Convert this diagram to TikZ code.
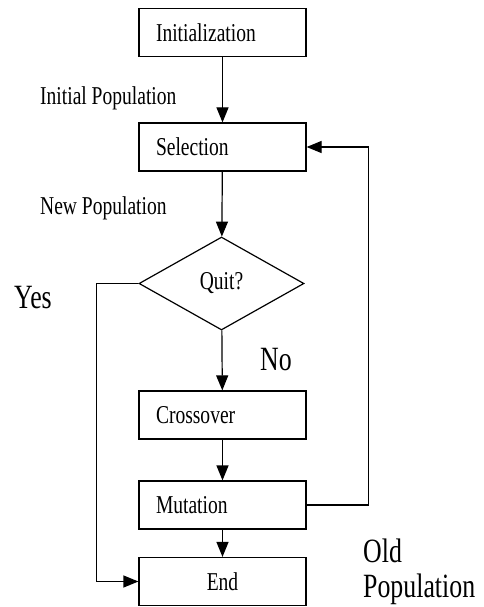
\documentclass[tikz,border=0pt]{standalone}
\usepackage{fontspec}
\setmainfont{Liberation Serif}[FakeStretch=0.76]
\usetikzlibrary{shapes.geometric,arrows.meta}

\begin{document}
\begin{tikzpicture}[x=1pt,y=-1pt,
		box/.style={rectangle, draw, line width=1.2pt, minimum width=167pt, minimum height=48pt, text width=133pt, inner xsep=17pt, align=left, font=\fontsize{25.7}{30}\selectfont},
		decision/.style={diamond, draw, line width=1.2pt, minimum width=165pt, minimum height=93pt, inner sep=0pt, font=\fontsize{25.7}{30}\selectfont},
		flow/.style={-{Triangle[length=15pt,width=12pt]}, line width=1.2pt},
		lbl/.style={anchor=base west, inner sep=0pt, font=\fontsize{25.7}{30}\selectfont},
		biglbl/.style={anchor=base west, inner sep=0pt, align=left, font=\fontsize{34}{35}\selectfont}]
	\useasboundingbox (0,0) rectangle (483,607);

	% Initialization rectangle
	\node[box] (init) at (222.5,32.5) {Initialization};

	% Selection rectangle
	\node[box] (sel) at (222.5,147) {Selection};

	% Quit decision diamond
	\node[decision] (quit) at (221.5,283.5) {Quit?};

	% Crossover rectangle
	\node[box] (cross) at (222.5,415) {Crossover};

	% Mutation rectangle
	\node[box] (mut) at (222.5,505) {Mutation};

	% End rectangle
	\node[box, align=center] (end) at (222.5,581.5) {End};

	% Arrows of the main flow
	\draw[flow] (init) -- (sel);
	\draw[flow] (sel) -- (quit);
	\draw[flow] (quit) -- (cross);
	\draw[flow] (cross) -- (mut);
	\draw[flow] (mut) -- (end);

	% Loop back to selection
	\draw[flow] (mut.east) -- ++(62,0) |- (sel.east);

	% Exit to end
	\draw[flow] (quit.west) -- ++(-42,0) |- (end.west);

	% Labels
	\node[lbl] (initpop) at (40,105) {Initial Population};
	\node[lbl] (newpop) at (40,214) {New Population};
	\node[biglbl] (yes) at (14,308) {Yes};
	\node[biglbl] (no) at (260,370) {No};
	\node[biglbl] (oldpop) at (363,597) {Old\\Population};
\end{tikzpicture}
\end{document}
